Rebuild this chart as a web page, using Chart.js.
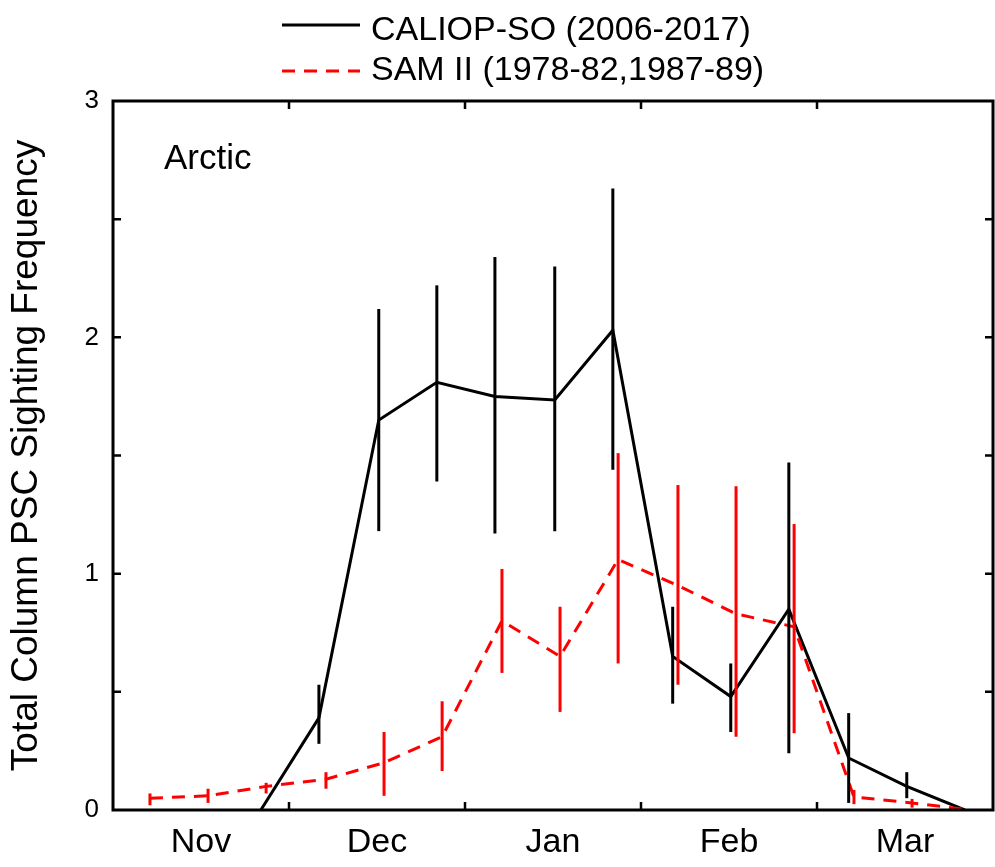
<!DOCTYPE html>
<html>
<head>
<meta charset="utf-8">
<script src="https://cdn.jsdelivr.net/npm/chart.js@4/dist/chart.umd.min.js"></script>
<style>
  body { margin: 0; background: #fff; }
  #wrap { width: 995px; height: 867px; }
</style>
</head>
<body>
<div id="wrap"><canvas id="chart"></canvas></div>
<script>
// x is months since 1 Nov (0 = Nov 1, 5 = Apr 1)
const MONTHS = ['Nov', 'Dec', 'Jan', 'Feb', 'Mar'];

const caliopX  = [0.84, 1.17, 1.51, 1.84, 2.17, 2.51, 2.84, 3.18, 3.51, 3.84, 4.18, 4.51, 4.84];
const caliopY  = [0, 0.39, 1.65, 1.81, 1.75, 1.735, 2.03, 0.65, 0.48, 0.85, 0.22, 0.10, 0];
const caliopHi = [null, 0.53, 2.12, 2.22, 2.34, 2.30, 2.63, 0.86, 0.62, 1.47, 0.41, 0.16, null];
const caliopLo = [null, 0.28, 1.18, 1.39, 1.17, 1.18, 1.44, 0.45, 0.33, 0.24, 0.03, 0.05, null];

const samX  = [0.21, 0.54, 0.87, 1.21, 1.54, 1.87, 2.21, 2.54, 2.87, 3.21, 3.54, 3.87, 4.21, 4.54, 4.87];
const samY  = [0.05, 0.06, 0.10, 0.13, 0.20, 0.31, 0.80, 0.65, 1.06, 0.95, 0.83, 0.775, 0.055, 0.03, 0];
const samHi = [0.07, 0.09, 0.115, 0.16, 0.33, 0.46, 1.02, 0.86, 1.51, 1.375, 1.37, 1.21, 0.085, 0.047, null];
const samLo = [0.02, 0.03, 0.07, 0.09, 0.06, 0.165, 0.58, 0.415, 0.62, 0.53, 0.31, 0.325, 0.025, 0.01, null];

const FONT = '"Liberation Sans", Arial, sans-serif';

function toPoints(xs, ys) {
  return xs.map((x, i) => ({ x: x, y: ys[i] }));
}

// vertical error bars, no caps
const errorBars = {
  id: 'errorBars',
  afterDatasetsDraw(chart) {
    const ctx = chart.ctx;
    const xs = chart.scales.x, ys = chart.scales.y;
    chart.data.datasets.forEach(ds => {
      ctx.save();
      ctx.strokeStyle = ds.borderColor;
      ctx.lineWidth = 3;
      ds.data.forEach((p, i) => {
        if (ds.errHi[i] == null) return;
        const px = xs.getPixelForValue(p.x);
        ctx.beginPath();
        ctx.moveTo(px, ys.getPixelForValue(ds.errHi[i]));
        ctx.lineTo(px, ys.getPixelForValue(ds.errLo[i]));
        ctx.stroke();
      });
      ctx.restore();
    });
  }
};

// frame, inward ticks on all sides, panel label and legend
const frame = {
  id: 'frame',
  afterDraw(chart) {
    const ctx = chart.ctx;
    const a = chart.chartArea;
    const xs = chart.scales.x, ys = chart.scales.y;
    const tl = 8;
    ctx.save();
    ctx.strokeStyle = '#000';
    ctx.lineWidth = 3;
    ctx.strokeRect(a.left, a.top, a.right - a.left, a.bottom - a.top);
    ctx.lineWidth = 2.5;
    ctx.beginPath();
    for (let m = 1; m < MONTHS.length; ++m) {
      const px = xs.getPixelForValue(m);
      ctx.moveTo(px, a.bottom); ctx.lineTo(px, a.bottom - tl);
      ctx.moveTo(px, a.top); ctx.lineTo(px, a.top + tl);
    }
    for (let v = 0.5; v < 3; v += 0.5) {
      const py = ys.getPixelForValue(v);
      ctx.moveTo(a.left, py); ctx.lineTo(a.left + tl, py);
      ctx.moveTo(a.right, py); ctx.lineTo(a.right - tl, py);
    }
    ctx.stroke();

    ctx.fillStyle = '#000';
    ctx.font = '35px ' + FONT;
    ctx.textBaseline = 'alphabetic';
    ctx.fillText('Arctic', 164, 169);

    // legend
    ctx.font = '34px ' + FONT;
    const rows = [[25, 40], [71, 80]];
    chart.data.datasets.forEach(ds => {
      const [ly, ty] = rows[ds.legendRow];
      ctx.strokeStyle = ds.borderColor;
      ctx.lineWidth = 3;
      ctx.setLineDash(ds.borderDash || []);
      ctx.beginPath();
      ctx.moveTo(282, ly); ctx.lineTo(360, ly);
      ctx.stroke();
      ctx.setLineDash([]);
      ctx.fillStyle = '#000';
      ctx.fillText(ds.label, 371, ty);
    });
    ctx.restore();
  }
};

new Chart(document.getElementById('chart'), {
  type: 'line',
  data: {
    datasets: [
      {
        label: 'SAM II (1978-82,1987-89)',
        legendRow: 1,
        data: toPoints(samX, samY),
        errHi: samHi, errLo: samLo,
        borderColor: '#ff0000',
        borderWidth: 3,
        borderDash: [13, 9],
        pointRadius: 0,
        tension: 0
      },
      {
        label: 'CALIOP-SO (2006-2017)',
        legendRow: 0,
        data: toPoints(caliopX, caliopY),
        errHi: caliopHi, errLo: caliopLo,
        borderColor: '#000000',
        borderWidth: 3,
        pointRadius: 0,
        tension: 0
      }
    ]
  },
  options: {
    responsive: true,
    maintainAspectRatio: false,
    animation: false,
    layout: { padding: { top: 101, right: 2, left: 0, bottom: 0 } },
    plugins: { legend: { display: false }, tooltip: { enabled: false } },
    scales: {
      x: {
        type: 'linear',
        min: 0, max: 5,
        afterFit(s) { s.height = 57; s.paddingLeft = 0; s.paddingRight = 0; },
        grid: { display: false, drawTicks: false },
        border: { display: false },
        ticks: {
          stepSize: 0.5,
          autoSkip: false,
          maxRotation: 0,
          padding: 12,
          color: '#000',
          font: { family: FONT, size: 34 },
          callback: v => (v % 1 === 0.5 ? MONTHS[Math.floor(v)] : '')
        }
      },
      y: {
        min: 0, max: 3,
        afterFit(s) { s.width = 113; s.paddingTop = 0; s.paddingBottom = 0; },
        grid: { display: false, drawTicks: false },
        border: { display: false },
        ticks: {
          stepSize: 0.5,
          padding: 14,
          color: '#000',
          font: { family: FONT, size: 26 },
          callback: v => (v % 1 === 0 ? String(v) : '')
        },
        title: {
          display: true,
          text: 'Total Column PSC Sighting Frequency',
          color: '#000',
          font: { family: FONT, size: 37 },
          padding: { top: 5, bottom: 0 }
        }
      }
    }
  },
  plugins: [errorBars, frame]
});
</script>
</body>
</html>
